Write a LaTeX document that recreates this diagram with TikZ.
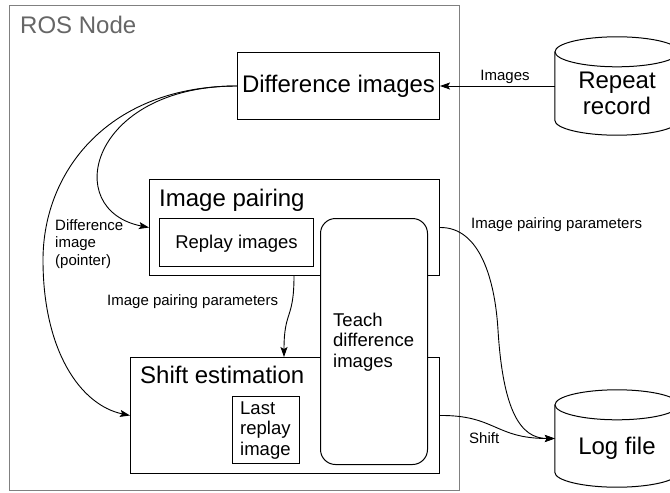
\documentclass[tikz,border=0pt]{standalone}
\usepackage{fontspec}
\setmainfont{Liberation Sans}
\usetikzlibrary{arrows.meta}
\begin{document}
\begin{tikzpicture}[x=1pt,y=-1pt,
  big/.style={font=\fontsize{24}{25.5}\selectfont},
  mid/.style={font=\fontsize{18.5}{20.5}\selectfont},
  small/.style={font=\fontsize{15}{17.5}\selectfont},
  box/.style={draw=black, line width=1pt, fill=white, inner sep=0pt, anchor=north west},
  lbl/.style={inner sep=0pt, anchor=base west},
  flow/.style={draw=black, line width=0.9pt, -{Stealth[length=10pt,width=7pt,inset=2pt]}},
  cyl/.style={draw=black, line width=1pt, fill=white},
]
\useasboundingbox (0,0) rectangle (670,493);
\fill[white] (0,0) rectangle (670,493);

% ROS node frame
\node[box, draw=gray, fill=none, minimum width=450pt, minimum height=485pt] (ros) at (9,5) {};
\node[lbl, big, text=black!60] (rostitle) at (20,33) {ROS Node};

% Processing blocks (multi-line labels are placed by the baseline of their last line)
\node[box, big, minimum width=202pt, minimum height=67pt] (diff) at (237,52) {Difference images};
\node[box, minimum width=290pt, minimum height=96pt] (imgpair) at (149,179) {};
\node[lbl, big] (imgpairtitle) at (159,206) {Image pairing};
\node[box, mid, minimum width=154pt, minimum height=48pt, text depth=2pt] (replay) at (159,218) {Replay images};
\node[box, minimum width=309pt, minimum height=116pt] (shift) at (130,357) {};
\node[lbl, big] (shifttitle) at (140,383) {Shift estimation};
\node[box, minimum width=67pt, minimum height=67pt] (last) at (232,396) {};
\node[lbl, mid, align=left] (lasttext) at (240,455) {Last\\replay\\image};
\node[box, rounded corners=15pt, minimum width=107pt, minimum height=246pt] (teach) at (320,218) {};
\node[lbl, mid, align=left] (teachtext) at (333,367) {Teach\\difference\\images};

% Storage cylinders
\node[inner sep=0pt, minimum width=124pt, minimum height=68pt] (rr) at (617,86) {};
\path[cyl] (rr.north west) -- (rr.south west)
  arc[start angle=180, end angle=0, x radius=62, y radius=15] -- (rr.north east);
\path[cyl] (rr.north) ellipse[x radius=62, y radius=15];
\node[big, align=center, inner sep=0pt, anchor=base] (rrtext) at (617,114) {Repeat\\record};

\node[inner sep=0pt, minimum width=124pt, minimum height=67pt] (log) at (617,438.5) {};
\path[cyl] (log.north west) -- (log.south west)
  arc[start angle=180, end angle=0, x radius=62, y radius=15] -- (log.north east);
\path[cyl] (log.north) ellipse[x radius=62, y radius=15];
\node[big, inner sep=0pt, anchor=base] (logtext) at (617,454) {Log file};

% Data flow
\draw[flow] (rr.west) -- (diff.east);
\node[small, inner sep=0pt, anchor=base] (limages) at (505,80) {Images};

\draw[flow] (diff.west) .. controls (90,86) and (60,210) .. (imgpair.west);
\draw[flow] (diff.west) .. controls (110,86) and (43,170) .. (43,260)
  .. controls (43,350) and (80,405) .. (shift.west);
\node[lbl, small, align=left] (lpointer) at (55,265) {Difference\\image\\(pointer)};

\draw[flow] ([xshift=145pt]imgpair.south west) .. controls (294,320) and (284,310)
  .. ([xshift=154pt]shift.north west);
\node[lbl, small] (lparams) at (107,305) {Image pairing parameters};

\draw[flow] (imgpair.east) .. controls (480,227) and (495,280) .. (498,330)
  .. controls (503,410) and (520,438.5) .. (log.west);
\node[lbl, small] (lparams2) at (471,228) {Image pairing parameters};

\draw[flow] (shift.east) .. controls (495,415) and (495,438.5) .. (log.west);
\node[lbl, small] (lshift) at (469,443) {Shift};
\end{tikzpicture}
\end{document}
